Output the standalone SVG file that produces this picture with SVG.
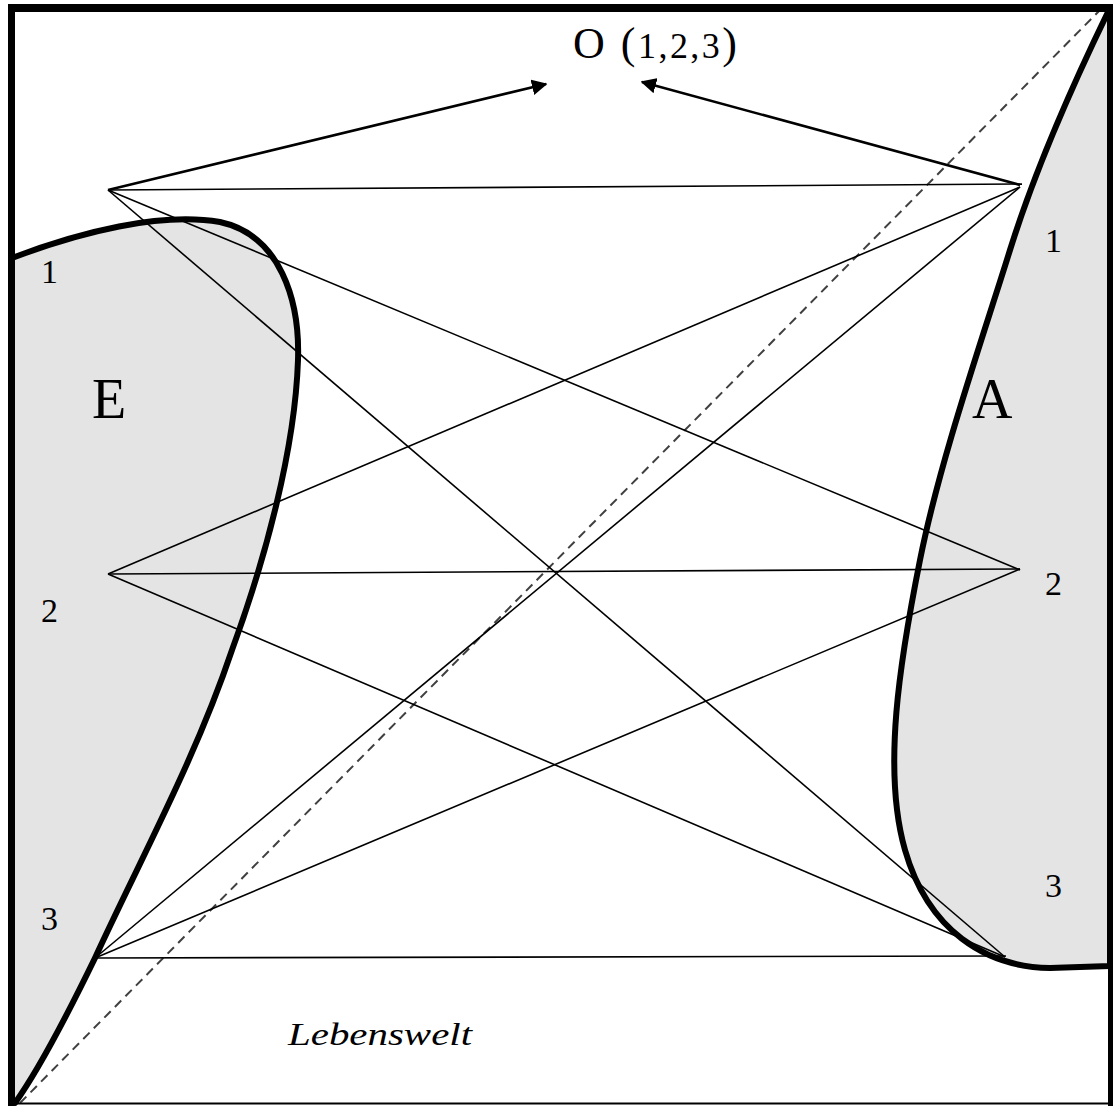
<svg xmlns="http://www.w3.org/2000/svg" width="1113" height="1106" viewBox="0 0 1113 1106">
<defs>
<style>
.shape{fill:#e4e4e4;stroke:#000;stroke-width:6;stroke-linejoin:round}
.ln{stroke:#000;stroke-width:1.6;fill:none}
.arr{stroke:#000;stroke-width:2.6;fill:none;marker-end:url(#ah)}
text{fill:#000}
</style>
<marker id="ah" viewBox="0 0 10 10" refX="9" refY="5" markerWidth="6" markerHeight="6" orient="auto" markerUnits="strokeWidth">
<path d="M0,0 L10,5 L0,10 Z" fill="#000"/>
</marker>
</defs>
<rect width="1113" height="1106" fill="#fff"/>
<g id="E">
<path class="shape" d="M12,258 C80,232 160,212 220,222 C280,235 300,300 298,360 C295,450 265,560 232,650 C195,760 140,860 95,958 C60,1030 35,1075 15,1103 L12,1103 Z"/>
</g>
<g id="A">
<path class="shape" d="M1108,12 C1075,80 1035,170 1010,250 C982,340 940,460 920,560 C900,660 882,770 905,850 C928,930 985,967 1050,968 L1110,966 L1110,12 Z"/>
</g>
<line x1="20" y1="1103" x2="1100" y2="10" stroke="#404040" stroke-width="2" stroke-dasharray="9,6"/>
<g id="connectors">
<line class="ln" x1="108" y1="190" x2="1022" y2="184"/>
<line class="ln" x1="108" y1="190" x2="1020" y2="570"/>
<line class="ln" x1="108" y1="190" x2="1005" y2="957"/>
<line class="ln" x1="108" y1="574" x2="1020" y2="187"/>
<line class="ln" x1="108" y1="574" x2="1020" y2="569"/>
<line class="ln" x1="108" y1="574" x2="1005" y2="957"/>
<line class="ln" x1="95" y1="958" x2="1020" y2="187"/>
<line class="ln" x1="95" y1="958" x2="1020" y2="569"/>
<line class="ln" x1="95" y1="958" x2="1006" y2="956"/>
<line class="arr" x1="108" y1="190" x2="546" y2="84"/>
<line class="arr" x1="1020" y1="185" x2="642" y2="82"/>
</g>
<g id="frame" stroke="#000" fill="none">
<line x1="11.5" y1="4" x2="11.5" y2="1106" stroke-width="7"/>
<line x1="8" y1="8" x2="1113" y2="8" stroke-width="8"/>
<line x1="1110.5" y1="4" x2="1110.5" y2="1106" stroke-width="5"/>
<line x1="8" y1="1103.5" x2="1113" y2="1103.5" stroke-width="2"/>
</g>
<g id="O" font-family="'Liberation Serif', 'Times New Roman', Times, serif">
<text x="573" y="58" font-size="44" textLength="164" lengthAdjust="spacing">O (<tspan font-size="36">1,2,3</tspan>)</text>
</g>
<g id="labels" font-family="'Liberation Serif', 'Times New Roman', Times, serif">
<text x="92" y="418" font-size="56">E</text>
<text x="972" y="418" font-size="56">A</text>
<text x="41" y="283" font-size="34">1</text>
<text x="41" y="622" font-size="34">2</text>
<text x="41" y="930" font-size="34">3</text>
<text x="1045" y="252" font-size="34">1</text>
<text x="1045" y="595" font-size="34">2</text>
<text x="1045" y="897" font-size="34">3</text>
<text x="288" y="1045" font-size="32" font-style="italic" textLength="184" lengthAdjust="spacingAndGlyphs">Lebenswelt</text>
</g>
</svg>
